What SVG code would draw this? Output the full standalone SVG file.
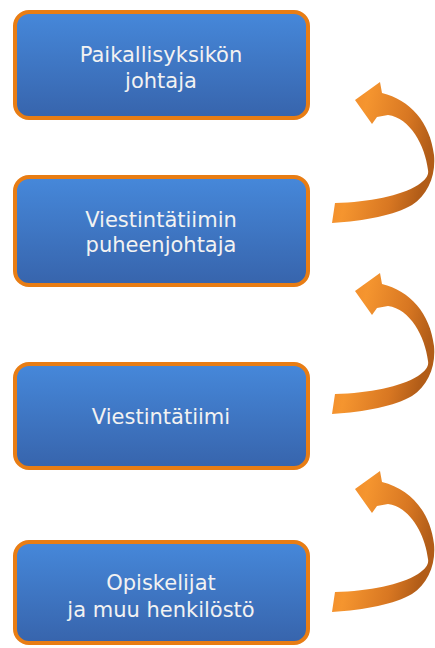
<svg xmlns="http://www.w3.org/2000/svg" width="435" height="648" viewBox="0 0 435 648">
<defs>
<linearGradient id="blue" x1="0" y1="0" x2="0" y2="1">
<stop offset="0" stop-color="#4688DA"/>
<stop offset="1" stop-color="#3764AC"/>
</linearGradient>
<linearGradient id="orange" x1="0" y1="0" x2="1" y2="0.3">
<stop offset="0" stop-color="#EE8629"/>
<stop offset="0.35" stop-color="#F5952F"/>
<stop offset="0.75" stop-color="#D87722"/>
<stop offset="1" stop-color="#B25D18"/>
</linearGradient>
<path id="arrow" d="M355,100 L380,82 L382,93 C410,100 430,122 434,155 C436,175 428,195 412,205 C395,215 365,221 332,223 L335,203 C370,202 400,196 418,185 C426,180 429,175 428,170 C425,145 410,118 388,115 L377,117 L372,124 Z"/>
</defs>
<style>
.box{fill:url(#blue);stroke:#E87D14;stroke-width:4}
.lbl{font-family:"DejaVu Sans",sans-serif;font-size:21px;fill:#F2F2F2;text-anchor:middle}
.arr{fill:url(#orange)}
</style>
<g id="connectors">
<use href="#arrow" class="arr"/>
<use href="#arrow" class="arr" transform="translate(0,191)"/>
<use href="#arrow" class="arr" transform="translate(0,389)"/>
</g>
<g id="node1">
<rect class="box" x="15" y="12" width="293" height="106" rx="14"/>
<text class="lbl" x="161" y="62">Paikallisyksikön</text>
<text class="lbl" x="161" y="88">johtaja</text>
</g>
<g id="node2">
<rect class="box" x="15" y="177" width="293" height="108" rx="14"/>
<text class="lbl" x="161" y="227">Viestintätiimin</text>
<text class="lbl" x="161" y="252">puheenjohtaja</text>
</g>
<g id="node3">
<rect class="box" x="15" y="364" width="293" height="104" rx="14"/>
<text class="lbl" x="161" y="424">Viestintätiimi</text>
</g>
<g id="node4">
<rect class="box" x="15" y="542" width="293" height="101" rx="14"/>
<text class="lbl" x="161" y="590">Opiskelijat</text>
<text class="lbl" x="161" y="617">ja muu henkilöstö</text>
</g>
</svg>
